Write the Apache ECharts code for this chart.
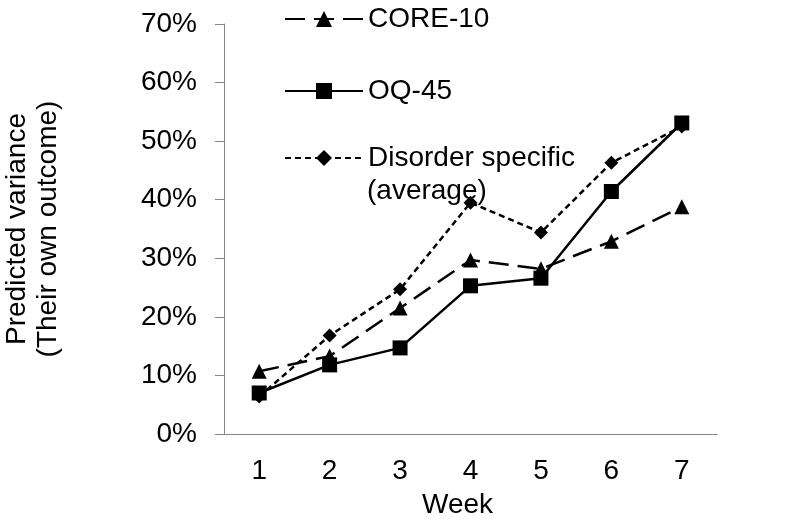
<!DOCTYPE html>
<html>
<head>
<meta charset="utf-8">
<script src="https://cdn.jsdelivr.net/npm/echarts@6/dist/echarts.min.js"></script>
<style>
  html, body { margin: 0; padding: 0; background: #fff; }
  #chart { width: 798px; height: 521px; }
</style>
</head>
<body>
<div id="chart"></div>
<script>
// weeks on the x axis
var weeks = ['1', '2', '3', '4', '5', '6', '7'];

// predicted variance, in percent
var core10 = [10.7, 13.3, 21.5, 29.7, 28.2, 32.9, 38.8];
var oq45 = [7.0, 11.8, 14.7, 25.3, 26.6, 41.4, 53.1];
var disorder = [6.4, 16.8, 24.7, 39.5, 34.4, 46.3, 52.5];

var font = 'Liberation Sans, Arial, sans-serif';
var axisGrey = '#868686';

var dom = document.getElementById('chart');
var myChart = echarts.init(dom);

//one legend per series so each line sits where it does in the figure
function legendAt(name, top) {
    return {
        data: [name],
        left: 279,
        top: top,
        itemWidth: 78,
        itemHeight: 20,
        selectedMode: false,
        textStyle: { fontFamily: font, fontSize: 28, color: '#000' }
    };
}

var option = {
    animation: false,
    grid: { left: 224, right: 81, top: 24, bottom: 87, outerBoundsMode: 'none', containLabel: false },
    legend: [
        legendAt('CORE-10', 0),
        legendAt('OQ-45', 72),
        legendAt('Disorder specific', 139)
    ],
    graphic: [{
        type: 'text',
        left: 367,
        top: 177,
        style: { text: '(average)', font: '28px ' + font, fill: '#000' }
    }],
    xAxis: {
        type: 'category',
        data: weeks,
        name: 'Week',
        nameLocation: 'middle',
        nameGap: 57,
        nameTextStyle: { fontFamily: font, fontSize: 28, color: '#000', padding: [0, 26, 0, 0] },
        axisLine: { lineStyle: { color: axisGrey, width: 1 } },
        axisTick: { length: 9, lineStyle: { color: axisGrey } },
        axisLabel: { margin: 23, fontFamily: font, fontSize: 28, color: '#000' }
    },
    yAxis: {
        type: 'value',
        min: 0,
        max: 70,
        interval: 10,
        name: 'Predicted variance\n(Their own outcome)',
        nameLocation: 'middle',
        nameGap: 160,
        nameRotate: 90,
        nameTextStyle: { fontFamily: font, fontSize: 28, color: '#000', lineHeight: 31 },
        axisLine: { show: true, lineStyle: { color: axisGrey, width: 1 } },
        axisTick: { show: true, length: 9, lineStyle: { color: axisGrey } },
        splitLine: { show: false },
        axisLabel: {
            margin: 27,
            fontFamily: font,
            fontSize: 28,
            color: '#000',
            formatter: '{value}%'
        }
    },
    series: [
        {
            name: 'CORE-10',
            type: 'line',
            data: core10,
            symbol: 'triangle',
            symbolSize: 15,
            itemStyle: { color: '#000' },
            lineStyle: { color: '#000', width: 2.5, type: [20, 9] }
        },
        {
            name: 'OQ-45',
            type: 'line',
            data: oq45,
            symbol: 'rect',
            symbolSize: 15,
            itemStyle: { color: '#000' },
            lineStyle: { color: '#000', width: 2.5, type: 'solid' }
        },
        {
            name: 'Disorder specific',
            type: 'line',
            data: disorder,
            symbol: 'diamond',
            symbolSize: 14,
            itemStyle: { color: '#000' },
            lineStyle: { color: '#000', width: 2.5, type: [6, 4] }
        }
    ]
};

if (option && typeof option === 'object') {
    myChart.setOption(option, true);
}
</script>
</body>
</html>
